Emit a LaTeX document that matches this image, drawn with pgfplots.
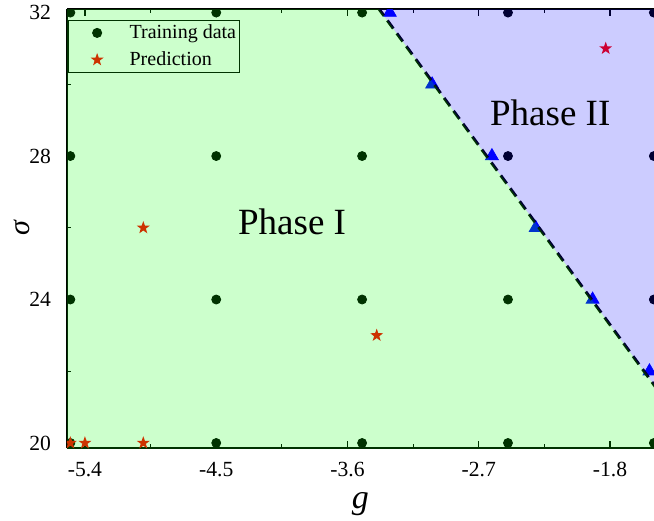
\documentclass[border=0pt]{standalone}
\usepackage{fontspec}
\setmainfont{Liberation Serif}
\usepackage{pgfplots}
\pgfplotsset{compat=1.18}
\usetikzlibrary{calc}
\definecolor{fgreen}{RGB}{0,255,0}
\definecolor{fblue}{RGB}{0,0,255}
\definecolor{dotleg}{RGB}{0,51,0}
\definecolor{starleg}{RGB}{204,51,0}
\definecolor{starred}{RGB}{255,0,0}
\pgfdeclareplotmark{fstar}{%
  \pgfpathmoveto{\pgfpointpolar{90}{\pgfplotmarksize}}%
  \pgfpathlineto{\pgfpointpolar{126}{0.4\pgfplotmarksize}}%
  \pgfpathlineto{\pgfpointpolar{162}{\pgfplotmarksize}}%
  \pgfpathlineto{\pgfpointpolar{198}{0.4\pgfplotmarksize}}%
  \pgfpathlineto{\pgfpointpolar{234}{\pgfplotmarksize}}%
  \pgfpathlineto{\pgfpointpolar{270}{0.4\pgfplotmarksize}}%
  \pgfpathlineto{\pgfpointpolar{306}{\pgfplotmarksize}}%
  \pgfpathlineto{\pgfpointpolar{342}{0.4\pgfplotmarksize}}%
  \pgfpathlineto{\pgfpointpolar{18}{\pgfplotmarksize}}%
  \pgfpathlineto{\pgfpointpolar{54}{0.4\pgfplotmarksize}}%
  \pgfpathclose\pgfusepathqfill}
\begin{document}
\begin{tikzpicture}
\begin{axis}[
  name=main,
  scale only axis, width=293.5pt, height=219.5pt,
  xmin=-5.523, xmax=-1.499, ymin=19.86, ymax=32.1,
  axis x line*=box, axis y line*=left,
  axis line style={line width=0.8pt},
  tick align=inside,
  major tick length=3.5pt, minor tick length=2pt,
  every tick/.style={black, line width=0.6pt},
  xtick={-5.4,-4.5,-3.6,-2.7,-1.8},
  xticklabels={-5.4,-4.5,-3.6,-2.7,-1.8},
  minor xtick={-4.95,-4.05,-3.15,-2.25},
  ytick={20,24,28,32},
  yticklabels={20,24,28,32},
  minor ytick={22,26,30},
  ticklabel style={font=\fontsize{10.8}{12}\selectfont},
  xticklabel style={yshift=-3.5pt},
  yticklabel style={xshift=-4.5pt},
  xlabel={\fontsize{17}{20}\selectfont\itshape g},
  ylabel={\fontsize{15}{18}\selectfont\itshape σ},
  every axis x label/.style={at={(axis description cs:0.5,0)}, yshift=-28.25pt, anchor=center},
  every axis y label/.style={at={(axis description cs:0,0.5)}, xshift=-22.5pt, rotate=90, anchor=center},
  clip marker paths=true,
  legend style={fill=none, draw=dotleg, line width=0.5pt,
    at={(0.002,0.975)}, anchor=north west,
    font=\fontsize{10}{12}\selectfont, row sep=1pt,
    inner xsep=11pt, inner ysep=0pt},
  legend cell align=left,
]
% training data
\addplot[only marks, mark=*, mark size=2.25pt, black, forget plot] coordinates {
(-5.5,20) (-4.5,20) (-3.5,20) (-2.5,20) (-1.5,20)
(-5.5,24) (-4.5,24) (-3.5,24) (-2.5,24) (-1.5,24)
(-5.5,28) (-4.5,28) (-3.5,28) (-2.5,28) (-1.5,28)
(-5.5,32) (-4.5,32) (-3.5,32) (-2.5,32) (-1.5,32)
};
% prediction
\addplot[only marks, mark=fstar, mark size=3.4pt, starred, forget plot] coordinates {
(-5.5,20) (-5.4,20) (-5.0,20) (-5.0,26) (-3.4,23) (-1.83,31)
};
% boundary points
\addplot[only marks, mark=triangle*, mark size=3.7pt, fblue, forget plot] coordinates {
(-3.31,32) (-3.02,30) (-2.61,28) (-2.31,26) (-1.92,24) (-1.53,22)
};
% boundary line
\addplot[black, line width=1.5pt, dash pattern=on 5pt off 3pt, forget plot] coordinates {
(-3.456,32.5) (-1.4,21.07)
};
% phase regions
\addplot[draw=none, fill=fgreen, fill opacity=0.2, forget plot] coordinates {
(-5.6,19.5) (-5.6,32.5) (-3.456,32.5) (-1.4,21.07) (-1.4,19.5)
} -- cycle;
\addplot[draw=none, fill=fblue, fill opacity=0.2, forget plot] coordinates {
(-3.456,32.5) (-1.4,32.5) (-1.4,21.07)
} -- cycle;
\node[font=\fontsize{18.5}{22}\selectfont] at (axis cs:-3.98,26.16) {Phase I};
\node[font=\fontsize{18.5}{22}\selectfont] at (axis cs:-2.21,29.2) {Phase II};
\addlegendimage{only marks, mark=*, mark size=2.25pt, dotleg}
\addlegendentry{\hspace{11pt}Training data\kern-11.5pt}
\addlegendimage{only marks, mark=fstar, mark size=3.4pt, starleg}
\addlegendentry{\hspace{11pt}Prediction\kern-11.5pt}
\end{axis}
\pgfresetboundingbox
\path ($(main.south west)+(-33.5pt,-36pt)$) rectangle ($(main.north east)+(0pt,4.5pt)$);
\end{tikzpicture}
\end{document}
